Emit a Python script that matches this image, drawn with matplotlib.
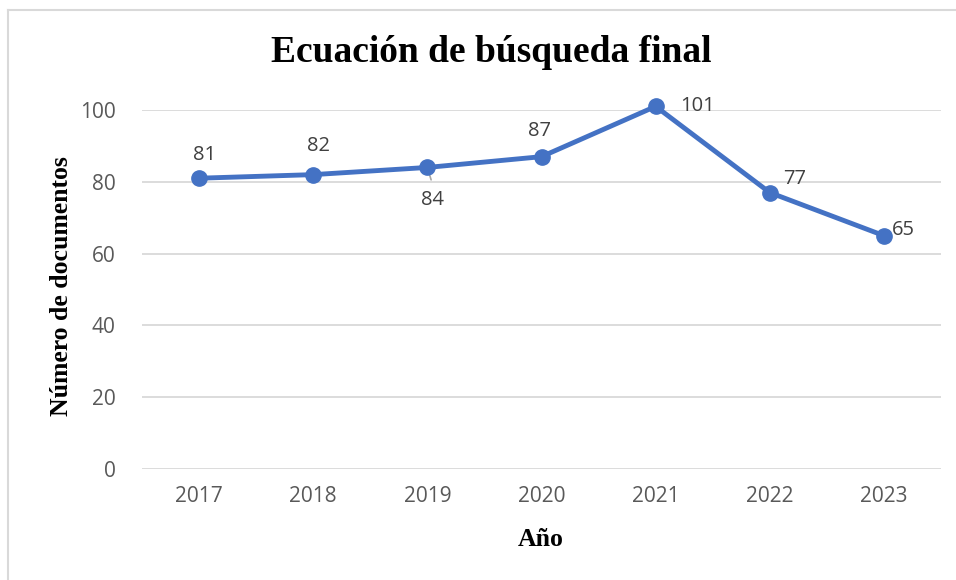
import matplotlib.pyplot as plt
from matplotlib.lines import Line2D

years = ["2017", "2018", "2019", "2020", "2021", "2022", "2023"]
docs = [81, 82, 84, 87, 101, 77, 65]
# label offsets in pixels (dx, dy) relative to each point
label_offsets = [(5, 23), (5, 29), (5, -33), (-2, 26), (42, 0), (25, 14), (19, 6)]

fig = plt.figure(figsize=(9.56, 5.8), dpi=100)
ax = fig.add_axes([142 / 956, 1 - 469 / 580, 799 / 956, 359 / 580])

x = list(range(len(years)))
ax.plot(x, docs, color="#4472C4", lw=3.5, marker="o", ms=11, solid_capstyle="round",
        zorder=3, clip_on=False)

for i, (v, off) in enumerate(zip(docs, label_offsets)):
    ax.annotate(str(v), (x[i], v), xytext=off, textcoords="offset pixels",
                ha="center", va="center", fontsize=14.5, color="#404040",
                family="Open Sans", zorder=4, annotation_clip=False)

# leader line for the 2019 label
ax.annotate("", (x[2], docs[2]), xytext=(x[2] + 0.04, docs[2] - 4.2),
            arrowprops=dict(arrowstyle="-", color="#A6A6A6", lw=1.2), zorder=2)

ax.set_xlim(-0.5, len(years) - 0.5)
ax.set_ylim(0, 100)
ax.set_yticks(range(0, 101, 20))
ax.set_xticks(x)
ax.set_xticklabels(years)
ax.yaxis.grid(True, color="#D9D9D9", lw=1.3)
ax.set_axisbelow(True)
for s in ax.spines.values():
    s.set_visible(False)
ax.tick_params(length=0, labelsize=15, labelcolor="#595959", pad=12)
ax.tick_params(axis="y", pad=19)
for lab in ax.get_xticklabels() + ax.get_yticklabels():
    lab.set_family("Open Sans")

fig.text(491 / 956, 1 - 53 / 580, "Ecuación de búsqueda final", ha="center", va="center",
         fontsize=27, fontweight="bold", family="Liberation Serif")
fig.text(541 / 956, 1 - 540 / 580, "Año", ha="center", va="center",
         fontsize=18.5, fontweight="bold", family="Liberation Serif")
fig.text(62 / 956, 1 - 286 / 580, "Número de documentos", ha="center", va="center",
         rotation=90, fontsize=18.5, fontweight="bold", family="Liberation Serif")

# chart frame (left and top edges visible)
fig.add_artist(Line2D([7.5 / 956, 7.5 / 956], [0, 1 - 10 / 580], color="#D9D9D9", lw=1.5))
fig.add_artist(Line2D([7.5 / 956, 1], [1 - 10 / 580, 1 - 10 / 580], color="#D9D9D9", lw=1.5))

fig.savefig("out.png", dpi=100)
